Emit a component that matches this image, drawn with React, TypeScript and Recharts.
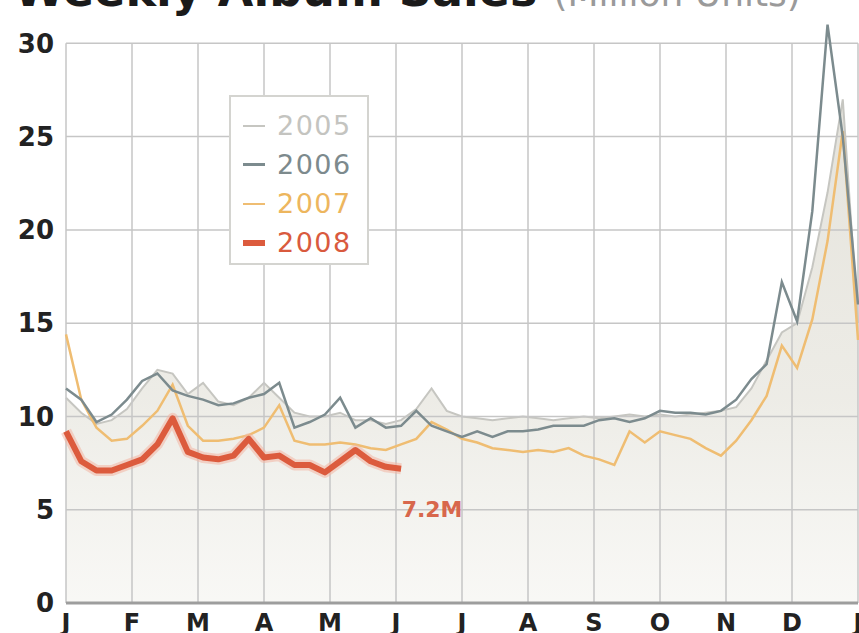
import React from 'react';
import { ComposedChart, Line, Area, XAxis, YAxis, ReferenceLine } from 'recharts';

// weekly sales, million units (week 0 = first week of Jan)
const sales2005 = [11.0, 10.2, 9.6, 9.8, 10.4, 11.5, 12.5, 12.3, 11.2, 11.8, 10.8, 10.6, 11.0, 11.8, 11.0, 10.2, 10.0, 10.0, 10.2, 9.8, 9.8, 9.6, 9.8, 10.4, 11.5, 10.3, 10.0, 9.9, 9.8, 9.9, 10.0, 9.9, 9.8, 9.9, 10.0, 9.9, 10.0, 10.1, 10.0, 10.1, 10.0, 10.1, 10.2, 10.3, 10.5, 11.5, 13.0, 14.5, 15.0, 18.0, 22.0, 27.0, 15.0];
const sales2006 = [11.5, 10.9, 9.7, 10.1, 10.9, 11.9, 12.3, 11.4, 11.1, 10.9, 10.6, 10.7, 11.0, 11.2, 11.8, 9.4, 9.7, 10.1, 11.0, 9.4, 9.9, 9.4, 9.5, 10.3, 9.5, 9.2, 8.9, 9.2, 8.9, 9.2, 9.2, 9.3, 9.5, 9.5, 9.5, 9.8, 9.9, 9.7, 9.9, 10.3, 10.2, 10.2, 10.1, 10.3, 10.9, 12.0, 12.8, 17.2, 15.1, 21.0, 31.0, 25.0, 16.0];
const sales2007 = [14.4, 10.9, 9.4, 8.7, 8.8, 9.5, 10.3, 11.7, 9.5, 8.7, 8.7, 8.8, 9.0, 9.4, 10.6, 8.7, 8.5, 8.5, 8.6, 8.5, 8.3, 8.2, 8.5, 8.8, 9.7, 9.3, 8.8, 8.6, 8.3, 8.2, 8.1, 8.2, 8.1, 8.3, 7.9, 7.7, 7.4, 9.2, 8.6, 9.2, 9.0, 8.8, 8.3, 7.9, 8.7, 9.8, 11.1, 13.8, 12.6, 15.2, 19.4, 25.3, 14.1];
const sales2008 = [9.2, 7.6, 7.1, 7.1, 7.4, 7.7, 8.5, 9.9, 8.1, 7.8, 7.7, 7.9, 8.8, 7.8, 7.9, 7.4, 7.4, 7.0, 7.6, 8.2, 7.6, 7.3, 7.2];

const monthLabels = ['J', 'F', 'M', 'A', 'M', 'J', 'J', 'A', 'S', 'O', 'N', 'D', 'J'];
const yTicks = [0, 5, 10, 15, 20, 25, 30];
const lastLabel = '7.2M';

const series = [
  { key: 'y2005', name: '2005', color: '#c6c6c1', text: '#c4c4c0', swatch: 2 },
  { key: 'y2006', name: '2006', color: '#7c8b8e', text: '#7d8a8d', swatch: 3 },
  { key: 'y2007', name: '2007', color: '#efbd72', text: '#edb65e', swatch: 2 },
  { key: 'y2008', name: '2008', color: '#dc5b3d', text: '#d95a3e', swatch: 6 },
];

const data = sales2005.map((v, i) => ({
  week: i,
  y2005: v,
  y2006: sales2006[i],
  y2007: sales2007[i],
  y2008: i < sales2008.length ? sales2008[i] : null,
}));

const monthTicks = monthLabels.map((_, i) => (i * 52) / 12);
const FONT = '"DejaVu Sans", sans-serif';
const GRID = '#c6c6c6';

// drawn as an overlay so it does not shrink the plot area
const LegendBox = () => (
  <div style={{ position: 'absolute', top: 95, left: 229, width: 140, height: 170, border: '2px solid #d4d4d0', background: '#fff', fontFamily: FONT, boxSizing: 'border-box', paddingTop: 9 }}>
    {series.map((s) => (
      <div key={s.key} style={{ display: 'flex', alignItems: 'center', height: 39 }}>
        <div style={{ width: 22, height: s.swatch, background: s.color, marginLeft: 12, marginRight: 12 }} />
        <span style={{ fontSize: 27, color: s.text, letterSpacing: 1.5 }}>{s.name}</span>
      </div>
    ))}
  </div>
);

const EndLabel = (props: any) => {
  const { x, y, index } = props;
  if (index !== sales2008.length - 1) return <g />;
  return (
    <text x={x + 31} y={y + 48} textAnchor="middle" fill="#d8674c" fontSize={22} fontWeight="bold" fontFamily={FONT}>
      {lastLabel}
    </text>
  );
};

export default function App() {
  return (
    <div style={{ position: 'absolute', top: 0, left: 0, width: 859, height: 633, overflow: 'hidden', background: '#fff' }}>
      <div style={{ position: 'absolute', top: -33, left: 14, whiteSpace: 'nowrap', fontFamily: FONT, lineHeight: '46px' }}>
        <span style={{ fontSize: 46, fontWeight: 'bold', color: '#1a1a1a' }}>Weekly Album Sales </span>
        <span style={{ fontSize: 36, color: '#9a9a9a' }}>(Million Units)</span>
      </div>
      {/* y domain runs a little above 30 so the December peak pokes over the top line */}
      <ComposedChart width={859} height={633} data={data} margin={{ top: 20, right: 1, bottom: 0, left: 0 }}>
        <defs>
          <linearGradient id="fill2005" x1="0" y1="0" x2="0" y2="1">
            <stop offset="0%" stopColor="#d1cec1" stopOpacity={0.95} />
            <stop offset="60%" stopColor="#dcdacf" stopOpacity={0.85} />
            <stop offset="100%" stopColor="#efeee8" stopOpacity={0.7} />
          </linearGradient>
        </defs>
        {yTicks.map((t) => (
          <ReferenceLine key={'h' + t} segment={[{ x: 0, y: t }, { x: 52, y: t }]} stroke={GRID} strokeWidth={1.5} />
        ))}
        {monthTicks.map((t) => (
          <ReferenceLine key={'v' + t} segment={[{ x: t, y: 0 }, { x: t, y: 30 }]} stroke={GRID} strokeWidth={1.5} />
        ))}
        <XAxis
          dataKey="week"
          type="number"
          domain={[0, 52]}
          ticks={monthTicks}
          tickFormatter={(v: number) => monthLabels[Math.round((v * 12) / 52)]}
          interval={0}
          height={30}
          tickLine={false}
          tickSize={0}
          tickMargin={11}
          axisLine={{ stroke: '#9d9d9d', strokeWidth: 3 }}
          tick={{ fontSize: 24, fontWeight: 'bold', fill: '#222', fontFamily: FONT }}
        />
        <YAxis
          domain={[0, 31.25]}
          ticks={yTicks}
          width={66}
          axisLine={false}
          tickLine={false}
          tickSize={0}
          tickMargin={12}
          tick={{ fontSize: 26, fontWeight: 'bold', fill: '#222', fontFamily: FONT }}
        />
        <Area dataKey="y2005" name="2005" type="linear" stroke="#c6c6c1" strokeWidth={2} fill="url(#fill2005)" isAnimationActive={false} />
        <Line dataKey="y2007" name="2007" type="linear" stroke="#efbd72" strokeWidth={2.5} dot={false} isAnimationActive={false} />
        <Line dataKey="y2006" name="2006" type="linear" stroke="#7c8b8e" strokeWidth={2.5} dot={false} isAnimationActive={false} />
        {/* soft halo under the 2008 line, as in the printed original */}
        <Line dataKey="y2008" name="2008 halo" type="linear" stroke="#f2b4a2" strokeOpacity={0.55} strokeWidth={11} strokeLinejoin="round" dot={false} legendType="none" isAnimationActive={false} />
        <Line dataKey="y2008" name="2008" type="linear" stroke="#dc5b3d" strokeWidth={6} strokeLinejoin="round" dot={false} label={<EndLabel />} isAnimationActive={false} />
      </ComposedChart>
      <LegendBox />
    </div>
  );
}
